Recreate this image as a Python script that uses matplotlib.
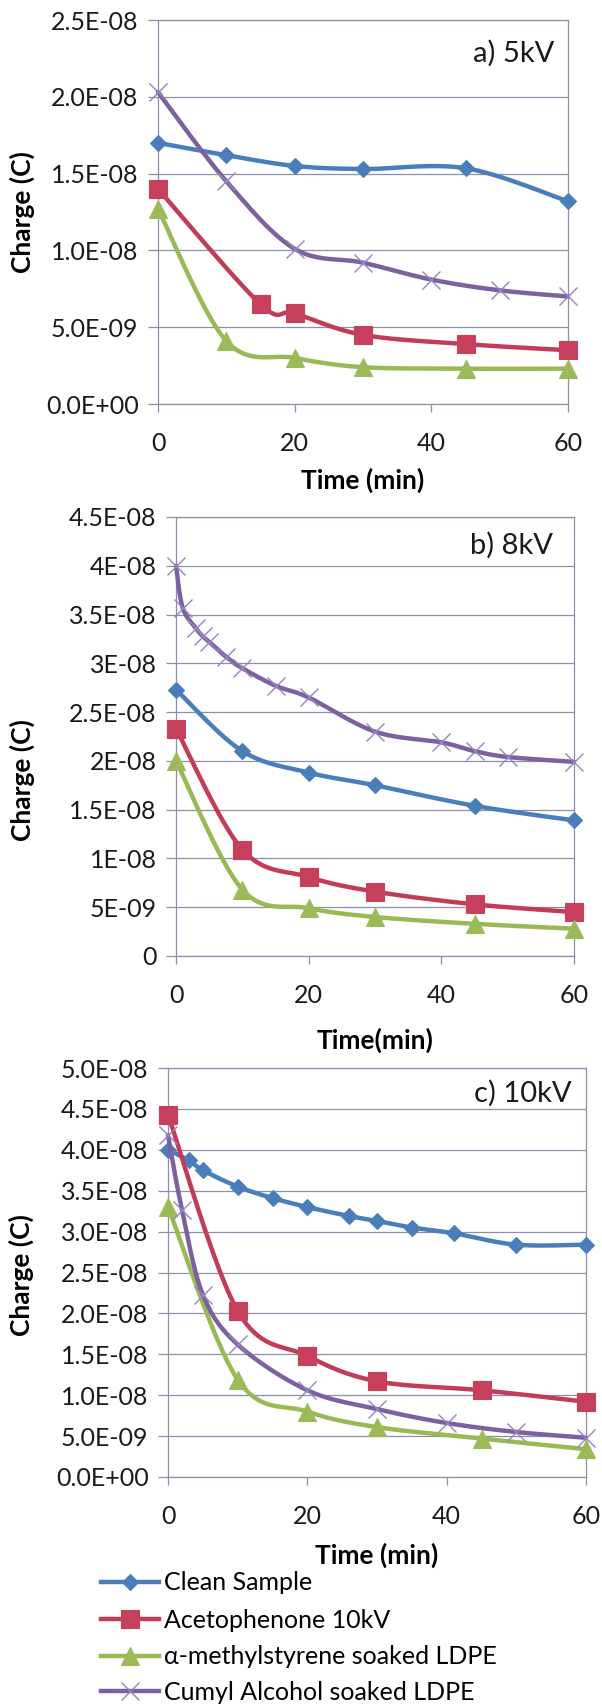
import numpy as np
import matplotlib
matplotlib.use('Agg')
import matplotlib.pyplot as plt
from matplotlib.lines import Line2D
from matplotlib.ticker import FixedLocator, FuncFormatter

plt.rcParams['font.family'] = ['Lato', 'DejaVu Sans']

# ---- data (charge in units of 1e-9 C, time in min) ----
labels = ['Clean Sample', 'Acetophenone 10kV',
          'α-methylstyrene soaked LDPE', 'Cumyl Alcohol soaked LDPE']

# a) 5kV
a_clean_t = [0, 10, 20, 30, 45, 60]
a_clean_q = [17.0, 16.2, 15.5, 15.3, 15.35, 13.2]
a_aceto_t = [0, 15, 20, 30, 45, 60]
a_aceto_q = [14.0, 6.5, 5.9, 4.5, 3.9, 3.5]
a_amst_t = [0, 10, 20, 30, 45, 60]
a_amst_q = [12.7, 4.1, 3.0, 2.4, 2.3, 2.3]
a_cumyl_t = [0, 10, 20, 30, 40, 50, 60]
a_cumyl_q = [20.3, 14.5, 10.1, 9.2, 8.1, 7.4, 7.0]

# b) 8kV
b_clean_t = [0, 10, 20, 30, 45, 60]
b_clean_q = [27.3, 21.0, 18.8, 17.5, 15.4, 13.9]
b_aceto_t = [0, 10, 20, 30, 45, 60]
b_aceto_q = [23.3, 10.9, 8.1, 6.6, 5.3, 4.5]
b_amst_t = [0, 10, 20, 30, 45, 60]
b_amst_q = [20.0, 6.8, 4.9, 4.0, 3.3, 2.8]
b_cumyl_t = [0, 1, 3, 4, 5, 7.5, 10, 15, 20, 30, 40, 45, 50, 60]
b_cumyl_q = [40.0, 35.7, 33.6, 32.8, 32.2, 30.7, 29.5, 27.7, 26.5, 23.0, 21.9, 21.0, 20.4, 19.9]

# c) 10kV
c_clean_t = [0, 3, 5, 10, 15, 20, 26, 30, 35, 41, 50, 60]
c_clean_q = [40.0, 38.7, 37.5, 35.5, 34.1, 33.0, 31.9, 31.3, 30.5, 29.8, 28.4, 28.4]
c_aceto_t = [0, 10, 20, 30, 45, 60]
c_aceto_q = [44.3, 20.3, 14.8, 11.7, 10.6, 9.2]
c_amst_t = [0, 10, 20, 30, 45, 60]
c_amst_q = [33.0, 11.9, 8.0, 6.1, 4.7, 3.4]
c_cumyl_t = [0, 2, 5, 10, 20, 30, 40, 50, 60]
c_cumyl_q = [41.8, 32.7, 22.3, 16.2, 10.6, 8.3, 6.6, 5.5, 4.8]

a_ymax = 25
b_ymax = 45
c_ymax = 50

W, H = 602, 1707
line_col = ['#4A7EBB', '#C23B57', '#98B954', '#7D60A0']
mark_col = ['#4A7EBB', '#C63F5B', '#9BBB59', '#9484C0']
markers = ['D', 's', '^', 'x']
msizes = [8.5, 13.5, 13, 13]
grid_col = '#8E8EAE'
TICK_FS = 18
LAB_FS = 19


def smooth(x, y, n=25):
    # excel style smoothed line (catmull-rom bezier)
    pts = np.column_stack([np.asarray(x, float), np.asarray(y, float)])
    m = len(pts)
    out = []
    tt = np.linspace(0, 1, n)[:, None]
    for i in range(m - 1):
        p0 = pts[max(i - 1, 0)]
        p1 = pts[i]
        p2 = pts[i + 1]
        p3 = pts[min(i + 2, m - 1)]
        c1 = p1 + (p2 - p0) / 6.0
        c2 = p2 - (p3 - p1) / 6.0
        seg = ((1 - tt) ** 3) * p1 + 3 * ((1 - tt) ** 2) * tt * c1 + 3 * (1 - tt) * tt ** 2 * c2 + tt ** 3 * p2
        out.append(seg if i == 0 else seg[1:])
    return np.vstack(out)


def add_axes(fig, left, top, right, bottom):
    return fig.add_axes([left / W, 1 - bottom / H, (right - left) / W, (bottom - top) / H])


def draw_panel(ax, series, ymax, fmt):
    for i, (t, q) in enumerate(series):
        q = np.array(q) * 1e-9
        s = smooth(t, q)
        ax.plot(s[:, 0], s[:, 1], color=line_col[i], lw=3.2, zorder=3 + i * 0.1,
                solid_capstyle='round', clip_on=False)
        if markers[i] == 'x':
            ax.plot(t, q, ls='none', marker='x', ms=msizes[i], mec=mark_col[i], mew=1.0,
                    zorder=3.05 + i * 0.1, clip_on=False)
        else:
            ax.plot(t, q, ls='none', marker=markers[i], ms=msizes[i], mfc=mark_col[i],
                    mec=mark_col[i], mew=0.8, zorder=3.05 + i * 0.1, clip_on=False)
    ax.set_xlim(0, 60)
    ax.set_ylim(0, ymax * 1e-9)
    ax.xaxis.set_major_locator(FixedLocator([0, 20, 40, 60]))
    ax.yaxis.set_major_locator(FixedLocator(np.arange(0, ymax + 1, 5) * 1e-9))
    ax.yaxis.set_major_formatter(FuncFormatter(fmt))
    ax.grid(axis='y', color=grid_col, lw=0.9, zorder=1)
    ax.set_axisbelow(True)
    for sp in ax.spines.values():
        sp.set_color(grid_col)
        sp.set_linewidth(0.9)
    ax.tick_params(axis='y', length=7, width=0.9, color=grid_col, pad=7, labelsize=TICK_FS,
                   labelcolor='#1a1a1a')
    ax.tick_params(axis='x', length=6, width=0.9, color=grid_col, pad=14, labelsize=TICK_FS,
                   labelcolor='#1a1a1a')


def fmt_sci(v, pos):
    return f'{v:.1E}'


def fmt_general(v, pos):
    if abs(v) < 1e-15:
        return '0'
    return f'{v:.2G}'


fig = plt.figure(figsize=(W / 100, H / 100), dpi=100)

ax_a = add_axes(fig, 158, 20, 568, 404)
draw_panel(ax_a, [(a_clean_t, a_clean_q), (a_aceto_t, a_aceto_q),
                  (a_amst_t, a_amst_q), (a_cumyl_t, a_cumyl_q)], a_ymax, fmt_sci)

ax_b = add_axes(fig, 176, 517, 574, 956)
draw_panel(ax_b, [(b_clean_t, b_clean_q), (b_aceto_t, b_aceto_q),
                  (b_amst_t, b_amst_q), (b_cumyl_t, b_cumyl_q)], b_ymax, fmt_general)

ax_c = add_axes(fig, 168, 1068, 586, 1477)
draw_panel(ax_c, [(c_clean_t, c_clean_q), (c_aceto_t, c_aceto_q),
                  (c_amst_t, c_amst_q), (c_cumyl_t, c_cumyl_q)], c_ymax, fmt_sci)


def ftext(x, y, s, **kw):
    fig.text(x / W, 1 - y / H, s, **kw)


# panel tags
ftext(554, 53, 'a) 5kV', ha='right', va='center', fontsize=21, color='#1a1a1a')
ftext(553, 545, 'b) 8kV', ha='right', va='center', fontsize=21, color='#1a1a1a')
ftext(572, 1093, 'c) 10kV', ha='right', va='center', fontsize=21, color='#1a1a1a')

# axis labels
ftext(363, 480, 'Time (min)', ha='center', va='center', fontsize=LAB_FS, fontweight='bold')
ftext(375, 1040, 'Time(min)', ha='center', va='center', fontsize=LAB_FS, fontweight='bold')
ftext(377, 1555, 'Time (min)', ha='center', va='center', fontsize=LAB_FS, fontweight='bold')
ftext(22, 212, 'Charge (C)', ha='center', va='center', rotation=90, fontsize=LAB_FS, fontweight='bold')
ftext(22, 780, 'Charge (C)', ha='center', va='center', rotation=90, fontsize=LAB_FS, fontweight='bold')
ftext(21, 1275, 'Charge (C)', ha='center', va='center', rotation=90, fontsize=LAB_FS, fontweight='bold')

# legend, one row per entry so the row positions match the reference
row_y = [1583, 1620, 1657, 1692]
for i in range(4):
    if markers[i] == 'x':
        h = Line2D([], [], color=line_col[i], lw=3.2, marker='x', ms=msizes[i],
                   mec=mark_col[i], mew=1.0)
    else:
        h = Line2D([], [], color=line_col[i], lw=3.2, marker=markers[i], ms=msizes[i],
                   mfc=mark_col[i], mec=mark_col[i], mew=0.8)
    fig.legend([h], [labels[i]], loc='center left', bbox_to_anchor=(101 / W, 1 - row_y[i] / H),
               frameon=False, fontsize=18, handlelength=2.32, handletextpad=0.18,
               borderpad=0, borderaxespad=0, numpoints=1)

fig.savefig('out.png', dpi=100)
